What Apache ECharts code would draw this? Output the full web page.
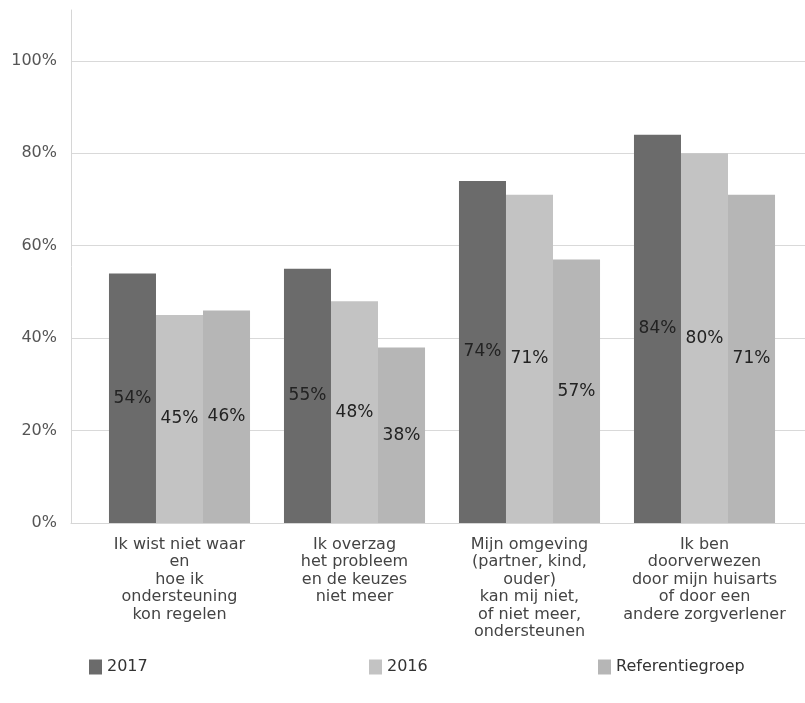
<!DOCTYPE html>
<html>
<head>
<meta charset="utf-8">
<script src="https://cdn.jsdelivr.net/npm/echarts@6/dist/echarts.min.js"></script>
<style>
  html, body { margin: 0; padding: 0; background: #fff; }
  #chart { width: 805px; height: 703px; }
</style>
</head>
<body>
<div id="chart"></div>
<script>
// Redenen om ondersteuning te zoeken, 2017 vs 2016 vs referentiegroep (in %)
const categories = [
  'Ik wist niet waar\nen\nhoe ik\nondersteuning\nkon regelen',
  'Ik overzag\nhet probleem\nen de keuzes\nniet meer',
  'Mijn omgeving\n(partner, kind,\nouder)\nkan mij niet,\nof niet meer,\nondersteunen',
  'Ik ben\ndoorverwezen\ndoor mijn huisarts\nof door een\nandere zorgverlener'
];
const seriesNames = ['2017', '2016', 'Referentiegroep'];
const values2017 = [54, 55, 74, 84];
const values2016 = [45, 48, 71, 80];
const valuesRef = [46, 38, 57, 71];
const yTicks = [0, 20, 40, 60, 80, 100];

const colors = ['#6b6b6b', '#c3c3c3', '#b6b6b6'];
const FONT = 'DejaVu Sans';
const Y_MAX = 111;

const chart = echarts.init(document.getElementById('chart'), null, { renderer: 'canvas' });

const legendBase = {
  top: 654,
  itemWidth: 13,
  itemHeight: 15,
  itemGap: 0,
  icon: 'rect',
  textStyle: { fontFamily: FONT, fontSize: 16, color: '#333', padding: [2, 0, 0, 0] }
};

const seriesData = [values2017, values2016, valuesRef];

chart.setOption({
  animation: false,
  color: colors,
  legend: [
    Object.assign({}, legendBase, { left: 84, data: [seriesNames[0]] }),
    Object.assign({}, legendBase, { left: 364, data: [seriesNames[1]] }),
    Object.assign({}, legendBase, { left: 593, data: [seriesNames[2]] })
  ],
  grid: [
    // background frame: y-axis line, gridlines, baseline
    { left: 71, right: 0, top: 10, bottom: 180, containLabel: false },
    // bars and category labels
    { left: 92, right: 13, top: 10, bottom: 180, containLabel: false }
  ],
  xAxis: [
    {
      gridIndex: 0, type: 'value', min: 0, max: 1, show: true,
      axisLine: { show: true, onZero: false, lineStyle: { color: '#d6d6d6', width: 1 } },
      axisTick: { show: false }, axisLabel: { show: false }, splitLine: { show: false }
    },
    {
      gridIndex: 1, type: 'category', data: categories,
      axisLine: { show: false }, axisTick: { show: false },
      axisLabel: {
        interval: 0, margin: 13, fontFamily: FONT, fontSize: 16,
        lineHeight: 17.5, color: '#444', align: 'center'
      }
    }
  ],
  yAxis: [
    {
      gridIndex: 0, type: 'value', min: 0, max: Y_MAX, interval: 20,
      axisLine: { show: true, lineStyle: { color: '#d6d6d6', width: 1 } },
      axisTick: { show: false },
      axisLabel: {
        margin: 14, fontFamily: FONT, fontSize: 16, color: '#555',
        showMaxLabel: false,
        formatter: v => (yTicks.indexOf(v) >= 0 ? v + '%' : '')
      },
      splitLine: {
        show: true, showMinLine: false, showMaxLine: false,
        lineStyle: { color: '#d9d9d9', width: 1 }
      }
    },
    {
      gridIndex: 1, type: 'value', min: 0, max: Y_MAX, show: false,
      splitLine: { show: false }
    }
  ],
  series: seriesNames.map((name, i) => ({
    name: name,
    type: 'bar',
    xAxisIndex: 1,
    yAxisIndex: 1,
    data: seriesData[i],
    barGap: '0%',
    barCategoryGap: '19.4%',
    itemStyle: { color: colors[i] },
    label: {
      show: true,
      position: 'inside',
      formatter: '{c}%',
      fontFamily: FONT,
      fontSize: 17,
      color: '#222'
    }
  }))
});
</script>
</body>
</html>
